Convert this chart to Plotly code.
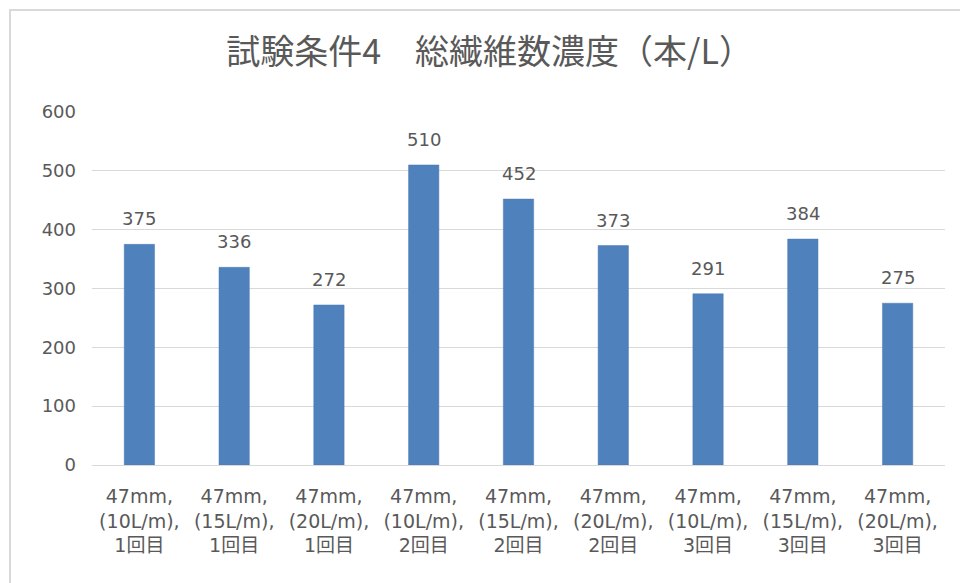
import plotly.graph_objects as go

categories = [
    "47mm,<br>(10L/m),<br>1回目", "47mm,<br>(15L/m),<br>1回目", "47mm,<br>(20L/m),<br>1回目",
    "47mm,<br>(10L/m),<br>2回目", "47mm,<br>(15L/m),<br>2回目", "47mm,<br>(20L/m),<br>2回目",
    "47mm,<br>(10L/m),<br>3回目", "47mm,<br>(15L/m),<br>3回目", "47mm,<br>(20L/m),<br>3回目",
]
values = [375, 336, 272, 510, 452, 373, 291, 384, 275]
title = "試験条件4　総繊維数濃度（本/L）"

font_family = "DejaVu Sans, Noto Sans CJK JP, sans-serif"
title_family = "Noto Sans CJK JP, sans-serif"
grey = "#595959"

xs = list(range(len(categories)))

fig = go.Figure(go.Bar(
    x=xs,
    y=values,
    marker=dict(color="#4f81bd", line=dict(color="#4a7ab5", width=0.5)),
    hoverinfo="skip",
))

for xi, v in zip(xs, values):
    fig.add_annotation(
        x=xi, y=v, text=str(v), showarrow=False,
        xanchor="center", yanchor="bottom", yshift=13,
        font=dict(size=18, color=grey, family=font_family),
    )

L, R, T, B = 92, 15, 112, 118
W, H = 960, 583
pw, ph = W - L - R, H - T - B

fig.update_layout(
    width=W, height=H,
    margin=dict(l=L, r=R, t=T, b=B, pad=0),
    paper_bgcolor="white", plot_bgcolor="white",
    bargap=0.68,
    showlegend=False,
    title=dict(text=title, x=0.51, xanchor="center", y=1 - 52 / H, yanchor="middle",
               font=dict(size=34, color=grey, family=title_family)),
    font=dict(family=font_family, color=grey, size=18),
    xaxis=dict(
        tickmode="array", tickvals=xs, ticktext=categories,
        range=[-0.5, len(categories) - 0.5],
        showgrid=False, zeroline=False, showline=False, ticks="",
        tickfont=dict(size=19, color=grey, family=font_family),
        ticklabelstandoff=18,
    ),
    yaxis=dict(
        range=[0, 600], dtick=100, showgrid=True, gridcolor="#d9d9d9", gridwidth=1,
        zeroline=True, zerolinecolor="#d9d9d9", zerolinewidth=1,
        showline=False, ticks="", ticklen=0,
        tickfont=dict(size=18, color=grey, family=font_family),
        ticklabelstandoff=15,
    ),
    shapes=[dict(
        type="rect", xref="paper", yref="paper",
        x0=(10 - L) / pw, x1=(W + 20 - L) / pw,
        y0=-(B + 20) / ph, y1=(H - B - 10) / ph,
        line=dict(color="#d9d9d9", width=2), fillcolor="rgba(0,0,0,0)", layer="below",
    )],
)

fig.write_html("out.html")
